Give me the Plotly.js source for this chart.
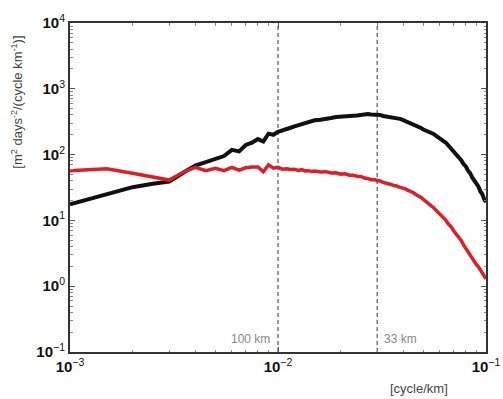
<!DOCTYPE html>
<html><head><meta charset="utf-8">
<script src="https://cdn.plot.ly/plotly-3.0.1.min.js"></script>
<style>html,body{margin:0;padding:0;background:#fff;}#chart{width:503px;height:399px;}</style>
</head><body><div id="chart"></div>
<script>
// wavenumber [cycle/km]
const kLow = [0.001,0.0015,0.002,0.0025,0.003,0.0035,0.004,0.0045,0.005,0.0055,0.006,0.0065,0.007,0.0075,0.008,0.0085,0.009,0.0095,0.010,0.0105,0.011,0.0115,0.012,0.0125,0.013,0.0135,0.014,0.0145];
const kMid = [0.015,0.016,0.017,0.018,0.019,0.020,0.021,0.022,0.023,0.024,0.025,0.026,0.027,0.028,0.029,0.030,0.031,0.032,0.033,0.034,0.035,0.036,0.037,0.038,0.039,0.040,0.041,0.042,0.043,0.044,0.045,0.046,0.047,0.048,0.049,0.050];
const kHigh = [0.052,0.054,0.056,0.058,0.060,0.062,0.064,0.066,0.068,0.070,0.072,0.074,0.076,0.078,0.080,0.082,0.084,0.086,0.088,0.090,0.092,0.094,0.096,0.098,0.100];

// black spectrum
const blackLow = [17.5,25,32,36,39,53,68,77,87,95,118,112,140,152,172,158,208,200,222,236,250,256,268,278,294,296,314,316];
const blackMid = [332,338,355,360,373,374,384,386,388,392,400,404,414,406,408,398,400,386,382,370,372,362,362,352,346,334,328,316,310,296,292,278,272,258,252,240];
const blackHigh = [230,216,206,190,179,163,153,137,125,110,101,89,82,72,66,57,52,44.5,40.5,35.5,32.5,27.5,25,21,19];

// red spectrum
const redLow = [57,61,52,46,41,54,64,57,62,57,64,58,63,65,65,55,70,62,64,60,61,59.5,60,57.5,59,56.5,57,55.5];
const redMid = [56.5,54.5,55,52.5,53,50.5,51,48.5,48.5,47,46.5,44,43.5,41.5,41.8,40.5,39.8,37.8,37.2,35.6,35.2,33.8,33.6,32.2,31.7,30.6,30.1,28.8,28.1,26.8,26.1,24.8,24.1,22.8,22.1,20.8];
const redHigh = [19.1,17.1,15.6,13.9,12.6,11.1,10.1,8.8,8.0,6.9,6.25,5.45,4.95,4.25,3.75,3.28,2.98,2.62,2.4,2.13,1.97,1.76,1.6,1.42,1.3];

// reference scales
const refK = [0.01, 0.03];
const refLabels = ['100 km', '33 km'];

const xTickVals = [0.001, 0.01, 0.1];
const xTickText = ['<b>10</b><sup>−3</sup>', '<b>10</b><sup>−2</sup>', '<b>10</b><sup>−1</sup>'];
const yTickVals = [0.1, 1, 10, 100, 1000, 10000];
const yTickText = ['<b>10</b><sup>−1</sup>', '<b>10</b><sup>0</sup>', '<b>10</b><sup>1</sup>', '<b>10</b><sup>2</sup>', '<b>10</b><sup>3</sup>', '<b>10</b><sup>4</sup>'];

const k = kLow.concat(kMid, kHigh);
const black = blackLow.concat(blackMid, blackHigh);
const red = redLow.concat(redMid, redHigh);

const traces = [];
refK.forEach(v => traces.push({x:[v,v], y:[0.1,10000], mode:'lines', line:{color:'#777', width:1.5, dash:'4px,3px'}, hoverinfo:'skip', showlegend:false}));
traces.push({x:k, y:black, mode:'lines', line:{color:'#111', width:4}, showlegend:false});
traces.push({x:k, y:red, mode:'lines', line:{color:'#dc1f26', width:3.5}, showlegend:false});

const axisBase = {type:'log', showgrid:false, zeroline:false, showline:true, linecolor:'#333', linewidth:2, mirror:'ticks', ticks:'inside', ticklen:5, tickcolor:'#555', tickmode:'array',
  tickfont:{family:'Liberation Sans, Arial, sans-serif', size:15, color:'#111'},
  minor:{ticks:'inside', ticklen:2.5, tickcolor:'#888', dtick:'D1'}};

const annotations = [
  {xref:'x', yref:'paper', x:Math.log10(refK[0]), y:0.04, xanchor:'right', yanchor:'middle', xshift:-6, text:refLabels[0], showarrow:false, font:{family:'Liberation Sans, Arial, sans-serif', size:12, color:'#888'}},
  {xref:'x', yref:'paper', x:Math.log10(refK[1]), y:0.04, xanchor:'left', yanchor:'middle', xshift:5, text:refLabels[1], showarrow:false, font:{family:'Liberation Sans, Arial, sans-serif', size:12, color:'#888'}},
  {xref:'paper', yref:'paper', x:0.84, y:-0.112, xanchor:'center', yanchor:'middle', text:'[cycle/km]', showarrow:false, font:{family:'Liberation Sans, Arial, sans-serif', size:13, color:'#444'}},
  {xref:'paper', yref:'paper', x:-0.128, y:0.76, xanchor:'center', yanchor:'middle', textangle:-90, text:'[m<sup>2</sup> days<sup>-2</sup>/(cycle km<sup>-1</sup>)]', showarrow:false, font:{family:'Liberation Sans, Arial, sans-serif', size:13, color:'#444'}}
];

const layout = {
  width:503, height:399,
  margin:{l:70, r:17, t:23, b:47},
  paper_bgcolor:'#fff', plot_bgcolor:'#fff',
  xaxis:Object.assign({}, axisBase, {range:[-3,-1], tickvals:xTickVals, ticktext:xTickText}),
  yaxis:Object.assign({}, axisBase, {range:[-1,4], tickvals:yTickVals, ticktext:yTickText}),
  annotations:annotations,
  showlegend:false
};
Plotly.newPlot('chart', traces, layout, {displayModeBar:false, staticPlot:true});
</script></body></html>
